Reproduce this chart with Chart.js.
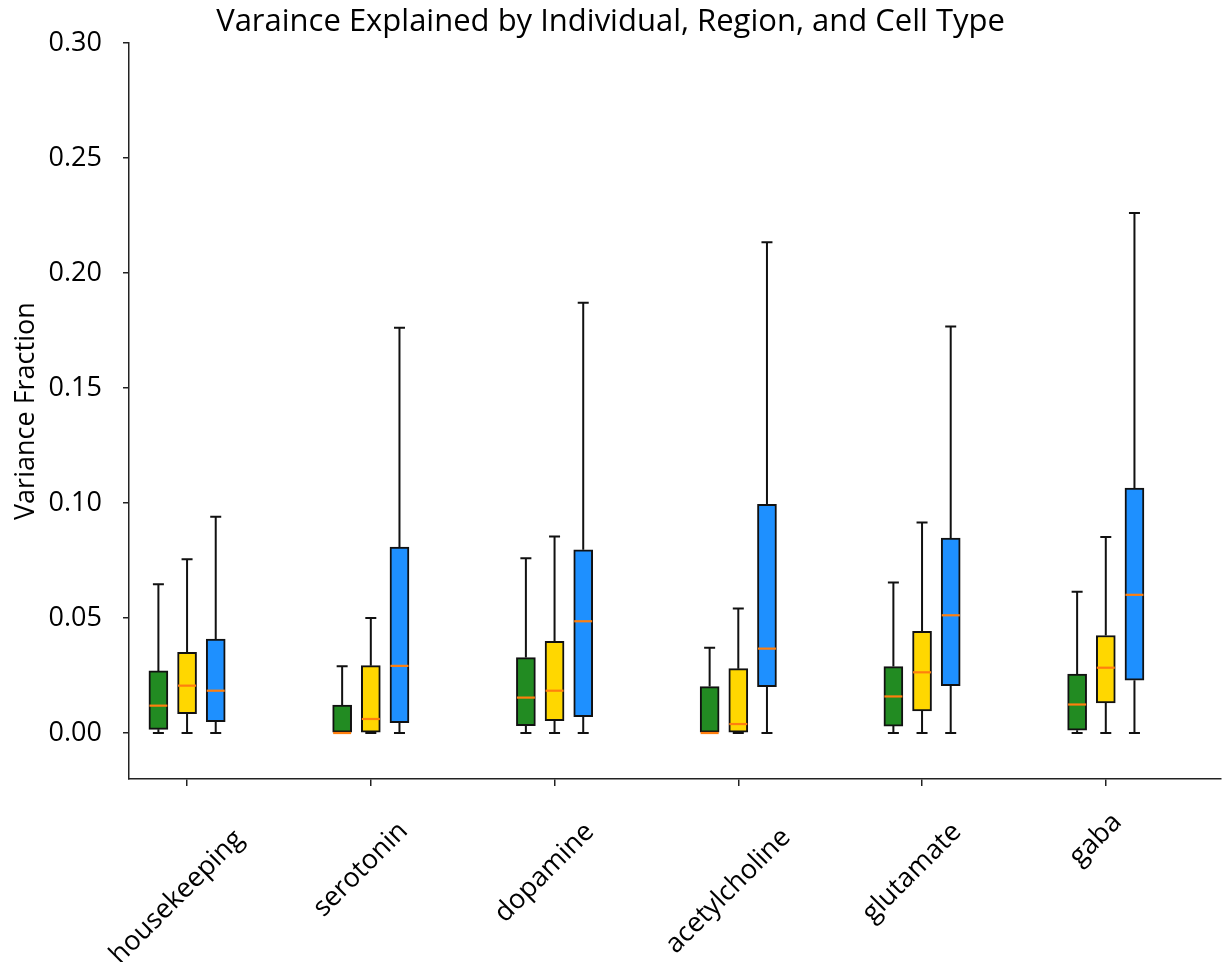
<!DOCTYPE html>
<html>
<head>
<meta charset="utf-8">
<script src="https://cdn.jsdelivr.net/npm/chart.js@4.4.1/dist/chart.umd.min.js"></script>
<style>
  html, body { margin: 0; padding: 0; background: #fff; }
  #wrap { width: 1224px; height: 962px; position: relative; }
</style>
</head>
<body>
<div id="wrap"><canvas id="boxChart"></canvas></div>
<script>
// categories (x axis)
const categories = ["housekeeping", "serotonin", "dopamine", "acetylcholine", "glutamate", "gaba"];
const yTicks = [0, 0.05, 0.10, 0.15, 0.20, 0.25, 0.30];

// Individual (green)
const indivMin = [0, 0, 0, 0, 0, 0];
const indivQ1 = [0.0016, 0, 0.0032, 0, 0.0030, 0.0012];
const indivMed = [0.0119, 0, 0.0154, 0, 0.0159, 0.0124];
const indivQ3 = [0.0270, 0.0122, 0.0328, 0.0202, 0.0289, 0.0256];
const indivMax = [0.0647, 0.0290, 0.0760, 0.0371, 0.0655, 0.0614];

// Region (yellow)
const regionMin = [0, 0, 0, 0, 0, 0];
const regionQ1 = [0.0084, 0, 0.0054, 0, 0.0096, 0.0131];
const regionMed = [0.0206, 0.0061, 0.0184, 0.0039, 0.0264, 0.0284];
const regionQ3 = [0.0351, 0.0293, 0.0399, 0.0280, 0.0442, 0.0424];
const regionMax = [0.0756, 0.0500, 0.0855, 0.0542, 0.0915, 0.0853];

// Cell Type (blue)
const cellMin = [0, 0, 0, 0, 0, 0];
const cellQ1 = [0.0049, 0.0045, 0.0071, 0.0202, 0.0206, 0.0230];
const cellMed = [0.0184, 0.0292, 0.0486, 0.0367, 0.0512, 0.0601];
const cellQ3 = [0.0408, 0.0809, 0.0797, 0.0995, 0.0848, 0.1065];
const cellMax = [0.0940, 0.1763, 0.1871, 0.2134, 0.1768, 0.2262];

const series = [
  { name: "Individual", color: "#228b22", min: indivMin, q1: indivQ1, med: indivMed, q3: indivQ3, max: indivMax, shift: -0.156 },
  { name: "Region", color: "#ffd700", min: regionMin, q1: regionQ1, med: regionMed, q3: regionQ3, max: regionMax, shift: 0 },
  { name: "Cell Type", color: "#1e90ff", min: cellMin, q1: cellQ1, med: cellMed, q3: cellQ3, max: cellMax, shift: 0.156 }
];

const FONT = "'Open Sans', 'Noto Sans', sans-serif";

// whiskers, caps, medians and the rotated category labels
const boxExtras = {
  id: "boxExtras",
  beforeDatasetsDraw(chart) {
    const { ctx, scales: { x, y } } = chart;
    ctx.save();
    ctx.strokeStyle = "#111";
    ctx.lineWidth = 2;
    series.forEach(s => {
      categories.forEach((c, i) => {
        const cx = x.getPixelForValue(i + 1 + s.shift);
        const yMax = y.getPixelForValue(s.max[i]);
        const yMin = y.getPixelForValue(s.min[i]);
        ctx.beginPath();
        ctx.moveTo(cx, y.getPixelForValue(s.q3[i]));
        ctx.lineTo(cx, yMax);
        ctx.moveTo(cx, y.getPixelForValue(s.q1[i]));
        ctx.lineTo(cx, yMin);
        ctx.moveTo(cx - 5.5, yMax);
        ctx.lineTo(cx + 5.5, yMax);
        ctx.moveTo(cx - 5.5, yMin);
        ctx.lineTo(cx + 5.5, yMin);
        ctx.stroke();
      });
    });
    ctx.restore();
  },
  afterDatasetsDraw(chart) {
    const { ctx, scales: { x, y } } = chart;
    ctx.save();
    ctx.strokeStyle = "#ff7f0e";
    ctx.lineWidth = 2.2;
    series.forEach(s => {
      categories.forEach((c, i) => {
        const cx = x.getPixelForValue(i + 1 + s.shift);
        const ym = y.getPixelForValue(s.med[i]);
        ctx.beginPath();
        ctx.moveTo(cx - 9, ym);
        ctx.lineTo(cx + 9, ym);
        ctx.stroke();
      });
    });

    // x labels, rotated 45 degrees and centred under the tick
    ctx.fillStyle = "#000";
    ctx.font = "27px " + FONT;
    ctx.textAlign = "center";
    ctx.textBaseline = "middle";
    categories.forEach((c, i) => {
      const px = x.getPixelForValue(i + 1);
      const w = ctx.measureText(c).width;
      ctx.save();
      ctx.translate(px - 10, x.top + 30 + w * 0.5);
      ctx.rotate(-Math.PI / 4);
      ctx.fillText(c, 0, 0);
      ctx.restore();
    });
    ctx.restore();
  }
};

const ctx = document.getElementById("boxChart").getContext("2d");
new Chart(ctx, {
  type: "bar",
  data: {
    datasets: series.map(s => ({
      label: s.name,
      data: categories.map((c, i) => ({ x: i + 1 + s.shift, y: [s.q1[i], s.q3[i]] })),
      backgroundColor: s.color,
      borderColor: "#111",
      borderWidth: 2,
      borderSkipped: false,
      barThickness: 19,
      grouped: false
    }))
  },
  options: {
    responsive: true,
    maintainAspectRatio: false,
    animation: false,
    layout: { padding: { left: 0, right: 3, top: 0, bottom: 0 } },
    plugins: {
      legend: { display: false },
      tooltip: { enabled: false },
      title: {
        display: true,
        text: "Varaince Explained by Individual, Region, and Cell Type",
        color: "#000",
        font: { family: FONT, size: 31, weight: "normal" },
        padding: { top: 4, bottom: 2 }
      }
    },
    scales: {
      x: {
        type: "linear",
        min: 0.684,
        max: 6.627,
        offset: false,
        afterBuildTicks: scale => {
          scale.ticks = categories.map((c, i) => ({ value: i + 1 }));
        },
        afterFit: scale => { scale.height = 183; },
        ticks: { display: false },
        grid: {
          display: true,
          offset: false,
          drawOnChartArea: false,
          drawTicks: true,
          tickLength: 7,
          color: "#222",
          lineWidth: 1.5
        },
        border: { display: true, color: "#222", width: 1.5 }
      },
      y: {
        min: -0.02,
        max: 0.30,
        afterBuildTicks: scale => {
          scale.ticks = yTicks.map(v => ({ value: v }));
        },
        afterFit: scale => { scale.width = 129; },
        ticks: {
          color: "#000",
          padding: 21,
          font: { family: FONT, size: 27 },
          callback: v => Number(v).toFixed(2)
        },
        grid: {
          display: true,
          drawOnChartArea: false,
          drawTicks: true,
          tickLength: 6,
          color: "#222",
          lineWidth: 1.5
        },
        border: { display: true, color: "#222", width: 1.5 },
        title: {
          display: true,
          text: "Variance Fraction",
          color: "#000",
          font: { family: FONT, size: 27 },
          padding: { top: 10, bottom: 0 }
        }
      }
    }
  },
  plugins: [boxExtras]
});
</script>
</body>
</html>
